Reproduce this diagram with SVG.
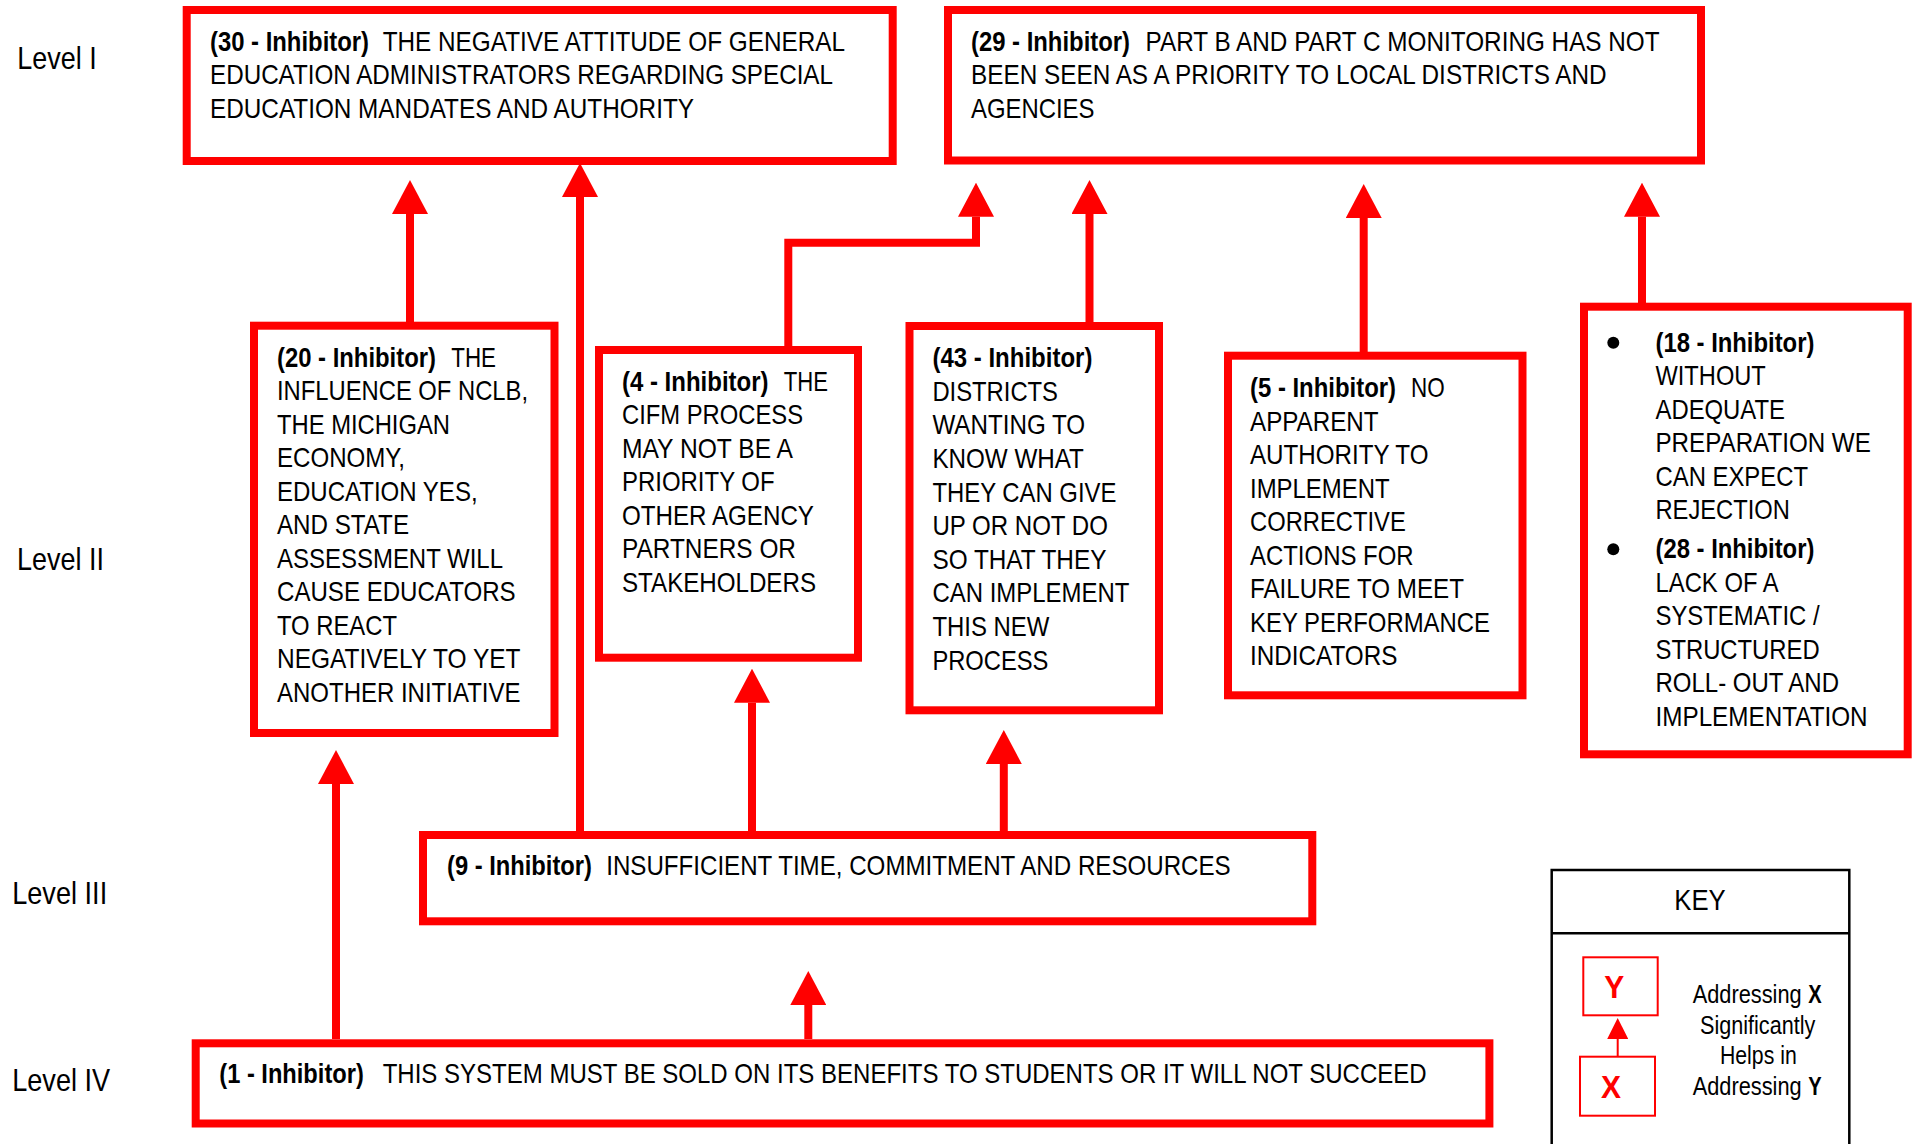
<svg xmlns="http://www.w3.org/2000/svg" width="1917" height="1144" viewBox="0 0 1917 1144">
<style>
text{font-family:"Liberation Sans Narrow","Arial Narrow","Liberation Sans",Arial,sans-serif;fill:#000}
.t{font-size:27.5px}
.lv{font-size:31px}
.b{font-weight:bold}
.box{fill:#fff;stroke:#ff0000;stroke-width:8}
.con{fill:none;stroke:#ff0000;stroke-width:8;stroke-linejoin:miter;stroke-linecap:butt}
.kb{fill:#fff;stroke:#ff0000;stroke-width:2}
.kt{font-size:25px}
.red{fill:#ff0000}
</style>
<defs>
<marker id="ah" markerUnits="userSpaceOnUse" viewBox="0 -18 34 36" refX="0" refY="0" markerWidth="34" markerHeight="36" orient="auto">
<path d="M0,-18 L34,0 L0,18 z" fill="#ff0000"/>
</marker>
<marker id="ahs" markerUnits="userSpaceOnUse" viewBox="0 -10.5 21 21" refX="0" refY="0" markerWidth="21" markerHeight="21" orient="auto">
<path d="M0,-10.5 L21,0 L0,10.5 z" fill="#ff0000"/>
</marker>
</defs>
<rect width="1917" height="1144" fill="#fff"/>

<g id="levels" transform="scale(0.82 1)">
<text class="lv" x="21.1" y="69" textLength="96.83" lengthAdjust="spacingAndGlyphs">Level I</text>
<text class="lv" x="20.73" y="570" textLength="106.1" lengthAdjust="spacingAndGlyphs">Level II</text>
<text class="lv" x="14.88" y="904" textLength="115.85" lengthAdjust="spacingAndGlyphs">Level III</text>
<text class="lv" x="14.88" y="1091" textLength="119.51" lengthAdjust="spacingAndGlyphs">Level IV</text>
</g>

<g id="connectors">
<path class="con" d="M410,322 V214" marker-end="url(#ah)"/>
<path class="con" d="M580,831 V197" marker-end="url(#ah)"/>
<path class="con" d="M788.3,346 V242.7 H976 V216.7" marker-end="url(#ah)"/>
<path class="con" d="M1089.5,322 V214" marker-end="url(#ah)"/>
<path class="con" d="M1363.7,352 V218" marker-end="url(#ah)"/>
<path class="con" d="M1642,303 V216.7" marker-end="url(#ah)"/>
<path class="con" d="M752,831 V702.7" marker-end="url(#ah)"/>
<path class="con" d="M1003.8,831 V764" marker-end="url(#ah)"/>
<path class="con" d="M336,1039 V784" marker-end="url(#ah)"/>
<path class="con" d="M808.3,1039 V1005" marker-end="url(#ah)"/>
</g>

<g id="n30">
<rect class="box" x="186.7" y="10" width="706" height="151"/>
<g transform="scale(0.82 1)">
<text class="t b" x="256.1" y="51" textLength="193.9" lengthAdjust="spacingAndGlyphs">(30 - Inhibitor)</text>
<text class="t" x="466.71" y="51" textLength="563.78" lengthAdjust="spacingAndGlyphs">THE NEGATIVE ATTITUDE OF GENERAL</text>
<text class="t" x="256.1" y="84.5" textLength="759.76" lengthAdjust="spacingAndGlyphs">EDUCATION ADMINISTRATORS REGARDING SPECIAL</text>
<text class="t" x="256.1" y="118" textLength="590.24" lengthAdjust="spacingAndGlyphs">EDUCATION MANDATES AND AUTHORITY</text>
</g>
</g>

<g id="n29">
<rect class="box" x="948" y="10" width="753" height="150.5"/>
<g transform="scale(0.82 1)">
<text class="t b" x="1184.15" y="51" textLength="193.9" lengthAdjust="spacingAndGlyphs">(29 - Inhibitor)</text>
<text class="t" x="1397.07" y="51" textLength="626.83" lengthAdjust="spacingAndGlyphs">PART B AND PART C MONITORING HAS NOT</text>
<text class="t" x="1184.15" y="84.5" textLength="775.24" lengthAdjust="spacingAndGlyphs">BEEN SEEN AS A PRIORITY TO LOCAL DISTRICTS AND</text>
<text class="t" x="1184.15" y="118" textLength="150.61" lengthAdjust="spacingAndGlyphs">AGENCIES</text>
</g>
</g>

<g id="n20">
<rect class="box" x="254" y="325.7" width="300.5" height="407.3"/>
<g transform="scale(0.82 1)">
<text class="t b" x="337.8" y="366.7" textLength="193.9" lengthAdjust="spacingAndGlyphs">(20 - Inhibitor)</text>
<text class="t" x="550.37" y="366.7" textLength="54.51" lengthAdjust="spacingAndGlyphs">THE</text>
<text class="t" x="337.8" y="400.2" textLength="306.1" lengthAdjust="spacingAndGlyphs">INFLUENCE OF NCLB,</text>
<text class="t" x="337.8" y="433.7" textLength="210.98" lengthAdjust="spacingAndGlyphs">THE MICHIGAN</text>
<text class="t" x="337.8" y="467.2" textLength="156.1" lengthAdjust="spacingAndGlyphs">ECONOMY,</text>
<text class="t" x="337.8" y="500.7" textLength="244.63" lengthAdjust="spacingAndGlyphs">EDUCATION YES,</text>
<text class="t" x="337.8" y="534.2" textLength="160.98" lengthAdjust="spacingAndGlyphs">AND STATE</text>
<text class="t" x="337.8" y="567.7" textLength="275.61" lengthAdjust="spacingAndGlyphs">ASSESSMENT WILL</text>
<text class="t" x="337.8" y="601.2" textLength="290.98" lengthAdjust="spacingAndGlyphs">CAUSE EDUCATORS</text>
<text class="t" x="337.8" y="634.7" textLength="146.34" lengthAdjust="spacingAndGlyphs">TO REACT</text>
<text class="t" x="337.8" y="668.2" textLength="296.95" lengthAdjust="spacingAndGlyphs">NEGATIVELY TO YET</text>
<text class="t" x="337.8" y="701.7" textLength="296.95" lengthAdjust="spacingAndGlyphs">ANOTHER INITIATIVE</text>
</g>
</g>

<g id="n4">
<rect class="box" x="599" y="350" width="259" height="307.7"/>
<g transform="scale(0.82 1)">
<text class="t b" x="758.54" y="390.7" textLength="178.66" lengthAdjust="spacingAndGlyphs">(4 - Inhibitor)</text>
<text class="t" x="955.85" y="390.7" textLength="53.9" lengthAdjust="spacingAndGlyphs">THE</text>
<text class="t" x="758.54" y="424.2" textLength="220.73" lengthAdjust="spacingAndGlyphs">CIFM PROCESS</text>
<text class="t" x="758.54" y="457.7" textLength="208.54" lengthAdjust="spacingAndGlyphs">MAY NOT BE A</text>
<text class="t" x="758.54" y="491.2" textLength="186.1" lengthAdjust="spacingAndGlyphs">PRIORITY OF</text>
<text class="t" x="758.54" y="524.7" textLength="234.15" lengthAdjust="spacingAndGlyphs">OTHER AGENCY</text>
<text class="t" x="758.54" y="558.2" textLength="212.2" lengthAdjust="spacingAndGlyphs">PARTNERS OR</text>
<text class="t" x="758.54" y="591.7" textLength="236.59" lengthAdjust="spacingAndGlyphs">STAKEHOLDERS</text>
</g>
</g>

<g id="n43">
<rect class="box" x="909.5" y="326" width="249.5" height="384.3"/>
<g transform="scale(0.82 1)">
<text class="t b" x="1137.07" y="367.3" textLength="195.12" lengthAdjust="spacingAndGlyphs">(43 - Inhibitor)</text>
<text class="t" x="1137.07" y="400.9" textLength="153.17" lengthAdjust="spacingAndGlyphs">DISTRICTS</text>
<text class="t" x="1137.07" y="434.5" textLength="186.34" lengthAdjust="spacingAndGlyphs">WANTING TO</text>
<text class="t" x="1137.07" y="468.1" textLength="184.76" lengthAdjust="spacingAndGlyphs">KNOW WHAT</text>
<text class="t" x="1137.07" y="501.7" textLength="224.39" lengthAdjust="spacingAndGlyphs">THEY CAN GIVE</text>
<text class="t" x="1137.07" y="535.3" textLength="214.02" lengthAdjust="spacingAndGlyphs">UP OR NOT DO</text>
<text class="t" x="1137.07" y="568.9" textLength="212.2" lengthAdjust="spacingAndGlyphs">SO THAT THEY</text>
<text class="t" x="1137.07" y="602.5" textLength="240.24" lengthAdjust="spacingAndGlyphs">CAN IMPLEMENT</text>
<text class="t" x="1137.07" y="636.1" textLength="142.68" lengthAdjust="spacingAndGlyphs">THIS NEW</text>
<text class="t" x="1137.07" y="669.7" textLength="141.46" lengthAdjust="spacingAndGlyphs">PROCESS</text>
</g>
</g>

<g id="n5">
<rect class="box" x="1228" y="355.7" width="294.5" height="339.6"/>
<g transform="scale(0.82 1)">
<text class="t b" x="1524.39" y="397.3" textLength="178.05" lengthAdjust="spacingAndGlyphs">(5 - Inhibitor)</text>
<text class="t" x="1720.73" y="397.3" textLength="41.1" lengthAdjust="spacingAndGlyphs">NO</text>
<text class="t" x="1524.39" y="430.8" textLength="156.83" lengthAdjust="spacingAndGlyphs">APPARENT</text>
<text class="t" x="1524.39" y="464.3" textLength="217.68" lengthAdjust="spacingAndGlyphs">AUTHORITY TO</text>
<text class="t" x="1524.39" y="497.8" textLength="170.24" lengthAdjust="spacingAndGlyphs">IMPLEMENT</text>
<text class="t" x="1524.39" y="531.3" textLength="190" lengthAdjust="spacingAndGlyphs">CORRECTIVE</text>
<text class="t" x="1524.39" y="564.8" textLength="199.51" lengthAdjust="spacingAndGlyphs">ACTIONS FOR</text>
<text class="t" x="1524.39" y="598.3" textLength="260.98" lengthAdjust="spacingAndGlyphs">FAILURE TO MEET</text>
<text class="t" x="1524.39" y="631.8" textLength="292.68" lengthAdjust="spacingAndGlyphs">KEY PERFORMANCE</text>
<text class="t" x="1524.39" y="665.3" textLength="179.76" lengthAdjust="spacingAndGlyphs">INDICATORS</text>
</g>
</g>

<g id="n18">
<rect class="box" x="1584" y="306.7" width="323.7" height="447.6"/>
<circle cx="1613.3" cy="342.7" r="6" fill="#000"/>
<circle cx="1613.3" cy="549.3" r="6" fill="#000"/>
<g transform="scale(0.82 1)">
<text class="t b" x="2018.9" y="352" textLength="193.78" lengthAdjust="spacingAndGlyphs">(18 - Inhibitor)</text>
<text class="t" x="2018.9" y="385.5" textLength="134.51" lengthAdjust="spacingAndGlyphs">WITHOUT</text>
<text class="t" x="2018.9" y="419" textLength="157.93" lengthAdjust="spacingAndGlyphs">ADEQUATE</text>
<text class="t" x="2018.9" y="452.5" textLength="262.56" lengthAdjust="spacingAndGlyphs">PREPARATION WE</text>
<text class="t" x="2018.9" y="486" textLength="185.98" lengthAdjust="spacingAndGlyphs">CAN EXPECT</text>
<text class="t" x="2018.9" y="519.5" textLength="163.78" lengthAdjust="spacingAndGlyphs">REJECTION</text>
<text class="t b" x="2018.9" y="558.3" textLength="193.78" lengthAdjust="spacingAndGlyphs">(28 - Inhibitor)</text>
<text class="t" x="2018.9" y="591.8" textLength="150.24" lengthAdjust="spacingAndGlyphs">LACK OF A</text>
<text class="t" x="2018.9" y="625.3" textLength="200.12" lengthAdjust="spacingAndGlyphs">SYSTEMATIC /</text>
<text class="t" x="2018.9" y="658.8" textLength="200.12" lengthAdjust="spacingAndGlyphs">STRUCTURED</text>
<text class="t" x="2018.9" y="692.3" textLength="223.78" lengthAdjust="spacingAndGlyphs">ROLL- OUT AND</text>
<text class="t" x="2018.9" y="725.8" textLength="258.66" lengthAdjust="spacingAndGlyphs">IMPLEMENTATION</text>
</g>
</g>

<g id="n9">
<rect class="box" x="423" y="835" width="889.3" height="86.3"/>
<g transform="scale(0.82 1)">
<text class="t b" x="545.12" y="875" textLength="176.83" lengthAdjust="spacingAndGlyphs">(9 - Inhibitor)</text>
<text class="t" x="739.27" y="875" textLength="761.59" lengthAdjust="spacingAndGlyphs">INSUFFICIENT TIME, COMMITMENT AND RESOURCES</text>
</g>
</g>

<g id="n1">
<rect class="box" x="195.7" y="1043.3" width="1293.7" height="80.2"/>
<g transform="scale(0.82 1)">
<text class="t b" x="267.44" y="1082.7" textLength="176.22" lengthAdjust="spacingAndGlyphs">(1 - Inhibitor)</text>
<text class="t" x="466.71" y="1082.7" textLength="1273.05" lengthAdjust="spacingAndGlyphs">THIS SYSTEM MUST BE SOLD ON ITS BENEFITS TO STUDENTS OR IT WILL NOT SUCCEED</text>
</g>
</g>

<g id="key">
<rect x="1551.7" y="870" width="297.6" height="290" fill="#fff" stroke="#000" stroke-width="2.5"/>
<line x1="1551.7" y1="933.3" x2="1849.3" y2="933.3" stroke="#000" stroke-width="2.5"/>
<rect class="kb" x="1583.3" y="957.3" width="74.4" height="58"/>
<rect class="kb" x="1580" y="1056.7" width="75" height="59"/>
<path d="M1617.7,1056.7 V1039" fill="none" stroke="#ff0000" stroke-width="2" marker-end="url(#ahs)"/>
<g transform="scale(0.82 1)">
<text x="2041.83" y="910" font-size="30" textLength="62.68" lengthAdjust="spacingAndGlyphs">KEY</text>
<text class="red b" x="1956.46" y="997.7" font-size="31" textLength="24.39" lengthAdjust="spacingAndGlyphs">Y</text>
<text class="red b" x="1952.44" y="1098.3" font-size="31" textLength="24.39" lengthAdjust="spacingAndGlyphs">X</text>
<text class="kt" x="2064.27" y="1003.3" textLength="132.93" lengthAdjust="spacingAndGlyphs">Addressing</text>
<text class="kt b" x="2205.24" y="1003.3" textLength="16.34" lengthAdjust="spacingAndGlyphs">X</text>
<text class="kt" x="2073.17" y="1034" textLength="140.61" lengthAdjust="spacingAndGlyphs">Significantly</text>
<text class="kt" x="2097.56" y="1064.5" textLength="93.54" lengthAdjust="spacingAndGlyphs">Helps in</text>
<text class="kt" x="2064.27" y="1095" textLength="132.93" lengthAdjust="spacingAndGlyphs">Addressing</text>
<text class="kt b" x="2205.24" y="1095" textLength="16.34" lengthAdjust="spacingAndGlyphs">Y</text>
</g>
</g>
</svg>
